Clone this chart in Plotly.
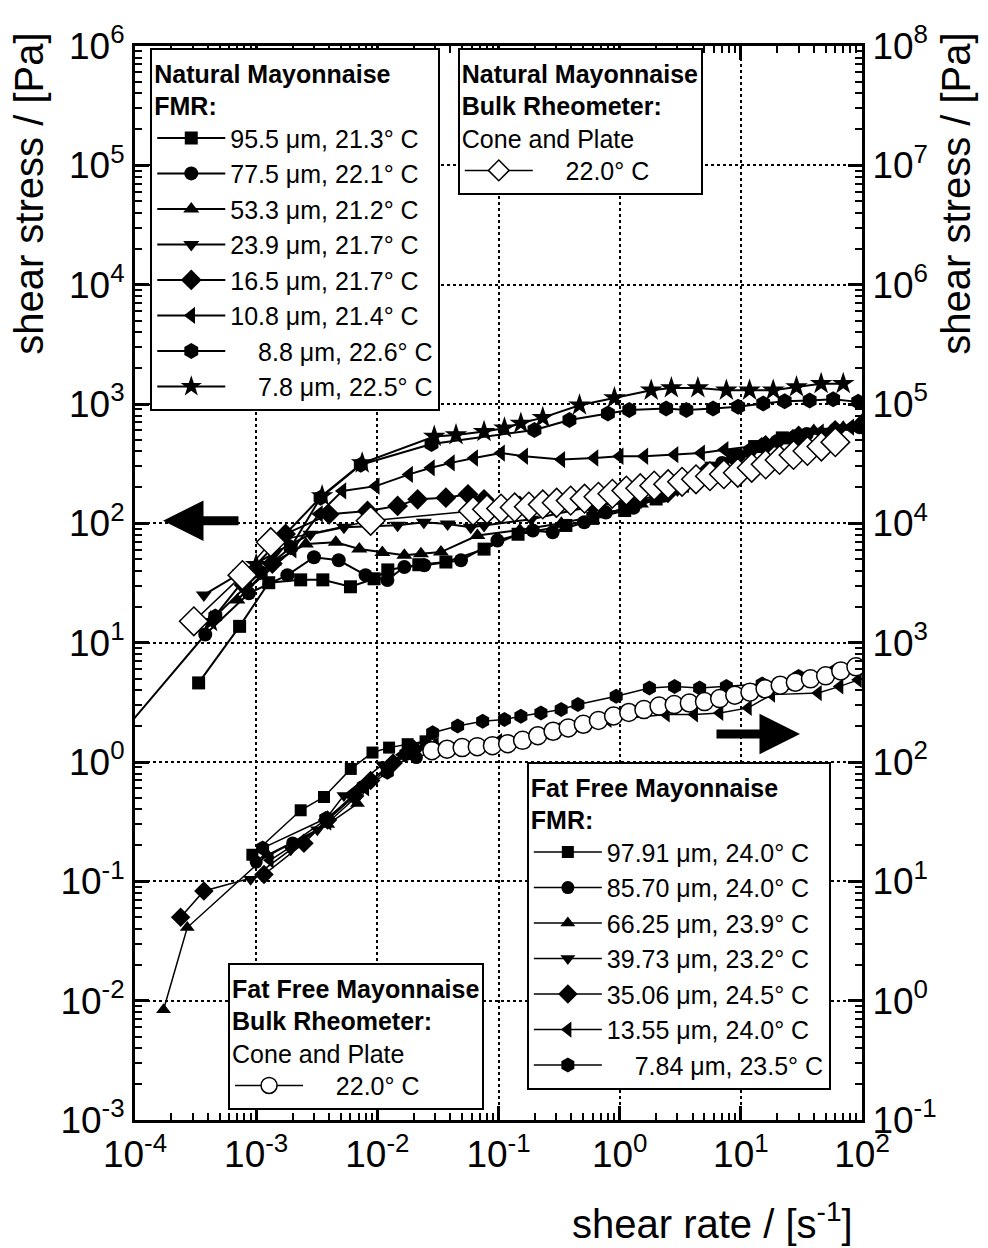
import plotly.graph_objects as go

FONT = "Arial, Liberation Sans, sans-serif"

# ---------------- Natural mayonnaise, FMR (left axis, Pa) ----------------
nat_labels = ["95.5 μm, 21.3° C", "77.5 μm, 22.1° C", "53.3 μm, 21.2° C", "23.9 μm, 21.7° C",
              "16.5 μm, 21.7° C", "10.8 μm, 21.4° C", "\u2007\u20078.8 μm, 22.6° C", "\u2007\u20077.8 μm, 22.5° C"]
nat_symbols = ["square", "circle", "triangle-up", "triangle-down", "diamond", "triangle-left", "hexagon", "star"]
nat_sizes = [13, 14, 14, 14, 16, 15, 16, 17]

nat_x_955 = [3.35e-4, 7.3e-4, 1.27e-3, 2.33e-3, 3.55e-3, 6.0e-3, 9.4e-3, 1.22e-2, 2.2e-2, 3.68e-2, 7.6e-2, 0.145, 0.36, 0.6, 1.1, 2.0, 3.3, 5.7, 8.8, 13.0, 22.0, 30.0]
nat_y_955 = [4.6, 13.7, 31.8, 33.6, 33.6, 29.4, 34.3, 40.7, 45.0, 47.4, 60.8, 81.0, 96.0, 110.0, 128.0, 160.0, 205.0, 290.0, 370.0, 440.0, 520.0, 540.0]

nat_x_775 = [5.0e-5, 3.8e-4, 8.7e-4, 1.81e-3, 3.0e-3, 4.8e-3, 8.0e-3, 1.21e-2, 1.67e-2, 2.44e-2, 4.9e-2, 9.8e-2, 0.192, 0.28, 0.51, 0.77, 1.3, 2.3, 4.0, 7.0, 12.0, 20.0, 35.0, 60.0, 95.0]
nat_y_775 = [1.03, 11.7, 25.9, 36.8, 52.0, 49.0, 36.8, 33.5, 43.0, 44.6, 49.0, 71.8, 87.0, 84.0, 102.0, 123.0, 135.0, 170.0, 230.0, 320.0, 410.0, 490.0, 560.0, 610.0, 640.0]

nat_x_533 = [7.0e-4, 1.4e-3, 2.57e-3, 4.54e-3, 7.1e-3, 1.10e-2, 1.67e-2, 2.29e-2, 3.35e-2, 6.7e-2, 0.15, 0.33, 0.7, 1.5, 3.0, 5.5, 10.0, 18.0, 27.0, 40.0, 70.0, 100.0]
nat_y_533 = [22.8, 47.4, 67.0, 69.5, 61.0, 57.0, 54.0, 55.6, 57.4, 79.0, 88.0, 100.0, 118.0, 145.0, 200.0, 280.0, 380.0, 470.0, 518.0, 600.0, 640.0, 700.0]

nat_x_239 = [3.7e-4, 7.4e-4, 1.45e-3, 2.8e-3, 5.3e-3, 1.47e-2, 2.42e-2, 3.8e-2, 5.9e-2, 7.6e-2, 0.186, 0.7, 1.5, 3.0, 6.0, 12.0, 25.0, 50.0, 100.0]
nat_y_239 = [25.1, 38.5, 57.5, 81.0, 92.7, 96.3, 101.9, 98.7, 92.6, 96.0, 108.0, 144.0, 150.0, 190.0, 280.0, 400.0, 520.0, 590.0, 640.0]

nat_x_165 = [7.94e-4, 1.36e-3, 1.75e-3, 4.0e-3, 8.3e-3, 1.47e-2, 2.15e-2, 3.68e-2, 5.6e-2, 7.6e-2, 0.15, 0.3, 0.6, 1.2, 2.5, 5.0, 9.0, 16.0, 30.0, 60.0, 100.0]
nat_y_165 = [30.4, 46.0, 81.5, 119.0, 127.0, 140.0, 159.0, 164.0, 175.0, 159.0, 140.0, 135.0, 140.0, 150.0, 180.0, 260.0, 350.0, 450.0, 540.0, 600.0, 680.0]

nat_x_108 = [8.5e-4, 2.0e-3, 3.3e-3, 5.15e-3, 9.7e-3, 1.83e-2, 2.77e-2, 4.05e-2, 6.3e-2, 0.105, 0.163, 0.33, 0.62, 1.0, 1.6, 2.84, 4.7, 7.35, 14.0, 25.0, 45.0, 80.0]
nat_y_108 = [28.0, 60.0, 120.0, 187.0, 205.0, 257.0, 292.0, 321.0, 353.0, 388.0, 365.0, 342.0, 353.0, 365.0, 365.0, 376.0, 388.0, 414.0, 450.0, 520.0, 580.0, 640.0]

nat_x_88 = [4.6e-4, 1.09e-3, 1.93e-3, 3.4e-3, 7.3e-3, 2.8e-2, 0.198, 0.385, 0.80, 1.2, 2.42, 3.55, 5.9, 9.5, 15.3, 23.0, 37.0, 57.8, 93.0]
nat_y_88 = [16.6, 39.0, 63.0, 164.0, 310.0, 462.0, 606.0, 735.0, 834.0, 889.0, 918.0, 889.0, 918.0, 948.0, 1010.0, 1055.0, 1072.0, 1096.0, 1042.0]

nat_x_78 = [4.2e-4, 1.0e-3, 3.5e-3, 7.5e-3, 2.95e-2, 4.46e-2, 7.6e-2, 0.112, 0.153, 0.232, 0.466, 0.905, 1.82, 2.67, 4.42, 7.6, 11.8, 18.5, 28.8, 46.0, 70.0]
nat_y_78 = [15.0, 45.0, 170.0, 320.0, 534.0, 551.0, 587.0, 627.0, 689.0, 769.0, 977.0, 1124.0, 1303.0, 1362.0, 1362.0, 1303.0, 1303.0, 1303.0, 1390.0, 1480.0, 1480.0]

nat_xs = [nat_x_955, nat_x_775, nat_x_533, nat_x_239, nat_x_165, nat_x_108, nat_x_88, nat_x_78]
nat_ys = [nat_y_955, nat_y_775, nat_y_533, nat_y_239, nat_y_165, nat_y_108, nat_y_88, nat_y_78]

# ---------------- Natural mayonnaise, bulk rheometer (left axis, Pa) ----------------
nat_bulk_x = [3.06e-4, 7.7e-4, 1.32e-3, 8.8e-3, 0.0617, 0.0804, 0.105, 0.136, 0.178, 0.232, 0.302, 0.394, 0.513,
              0.668, 0.871, 1.135, 1.479, 1.928, 2.512, 3.273, 4.266, 5.559, 7.244, 9.441, 12.30, 16.03,
              20.89, 27.23, 35.48, 46.24, 60.26]
nat_bulk_y = [15.1, 36.8, 69.5, 105.0, 127.0, 131.0, 133.0, 136.0, 138.0, 144.0, 149.0, 155.0, 161.0,
              167.0, 177.0, 188.0, 197.0, 207.0, 213.0, 223.0, 234.0, 248.0, 258.0, 265.0, 292.0, 312.0,
              340.0, 374.0, 404.0, 440.0, 479.0]

# ---------------- Fat free mayonnaise, FMR (right axis, Pa) ----------------
ff_labels = ["97.91 μm, 24.0° C", "85.70 μm, 24.0° C", "66.25 μm, 23.9° C", "39.73 μm, 23.2° C",
             "35.06 μm, 24.5° C", "13.55 μm, 24.0° C", "\u2007\u20077.84 μm, 23.5° C"]
ff_symbols = ["square", "circle", "triangle-up", "triangle-down", "diamond", "triangle-left", "hexagon"]
ff_sizes = [12, 13, 13, 13, 15, 14, 15]

ff_x_9791 = [9.3e-4, 2.33e-3, 3.63e-3, 6.04e-3, 9.12e-3, 1.25e-2, 1.78e-2, 2.5e-2]
ff_y_9791 = [16.7, 39.4, 50.9, 87.5, 120.0, 132.0, 141.0, 149.0]

ff_x_8570 = [1.0e-3, 2.0e-3, 3.8e-3, 7.5e-3, 1.3e-2, 2.1e-2, 3.0e-2]
ff_y_8570 = [14.5, 21.0, 33.0, 62.0, 95.0, 109.0, 122.0]

ff_x_6625 = [1.72e-4, 2.7e-4, 1.24e-3, 3.9e-3, 6.86e-3, 8.8e-3, 1.89e-2, 3.0e-2]
ff_y_6625 = [0.84, 4.1, 16.7, 30.0, 44.8, 70.0, 128.0, 140.0]

ff_x_3973 = [9.0e-4, 1.93e-3, 3.2e-3, 5.3e-3, 1.1e-2, 2.0e-2]
ff_y_3973 = [10.4, 18.4, 27.0, 52.5, 95.0, 125.0]

ff_x_3506 = [2.38e-4, 3.7e-4, 1.16e-3, 2.48e-3, 3.88e-3, 6.5e-3, 8.8e-3, 1.35e-2, 2.0e-2]
ff_y_3506 = [5.0, 8.3, 11.4, 20.9, 32.6, 52.0, 70.0, 98.0, 128.0]

ff_x_1355 = [1.3e-3, 3.9e-3, 8.0e-3, 1.6e-2, 3.0e-2, 0.1, 0.3, 0.8, 2.42, 4.14, 6.7, 11.5, 17.9, 43.5, 65.6, 93.0]
ff_y_1355 = [15.0, 31.0, 60.0, 115.0, 140.0, 150.0, 185.0, 225.0, 250.0, 250.0, 258.0, 284.0, 367.0, 378.0, 430.0, 488.0]

ff_x_784 = [1.13e-3, 3.75e-3, 1.21e-2, 1.72e-2, 2.86e-2, 4.6e-2, 7.4e-2, 0.112, 0.153, 0.224, 0.329, 0.452, 0.936, 1.76, 2.84, 4.57, 7.6, 15.0, 30.0, 60.0, 95.0]
ff_y_784 = [19.0, 33.6, 82.0, 117.0, 176.0, 200.0, 220.0, 227.0, 242.0, 258.0, 275.0, 303.0, 355.0, 417.0, 430.0, 417.0, 430.0, 450.0, 520.0, 580.0, 620.0]

ff_xs = [ff_x_9791, ff_x_8570, ff_x_6625, ff_x_3973, ff_x_3506, ff_x_1355, ff_x_784]
ff_ys = [ff_y_9791, ff_y_8570, ff_y_6625, ff_y_3973, ff_y_3506, ff_y_1355, ff_y_784]

# ---------------- Fat free mayonnaise, bulk rheometer (right axis, Pa) ----------------
ff_bulk_x = [0.0282, 0.0376, 0.0501, 0.0668, 0.0891, 0.119, 0.158, 0.211, 0.282, 0.376, 0.501, 0.668,
             0.891, 1.189, 1.585, 2.113, 2.818, 3.758, 5.012, 6.683, 8.913, 11.89, 15.85, 21.13, 28.18,
             37.58, 50.12, 66.83, 89.13]
ff_bulk_y = [124.5, 128.0, 132.0, 134.5, 137.0, 142.5, 152.0, 166.0, 181.0, 193.0, 207.0, 223.0,
             243.0, 260.0, 275.0, 294.0, 303.0, 312.0, 321.0, 340.0, 363.0, 385.0, 411.0, 440.0, 466.0,
             498.0, 527.0, 580.0, 627.0]

fig = go.Figure()

for xs, ys, lab, sym, sz in zip(nat_xs, nat_ys, nat_labels, nat_symbols, nat_sizes):
    fig.add_trace(go.Scatter(x=xs, y=ys, name=lab, mode="lines+markers",
                             line=dict(color="black", width=2),
                             marker=dict(symbol=sym, size=sz, color="black"),
                             legend="legend", xaxis="x", yaxis="y"))

fig.add_trace(go.Scatter(x=nat_bulk_x, y=nat_bulk_y, name="\u2007\u200722.0° C", mode="lines+markers",
                         line=dict(color="black", width=1.5),
                         marker=dict(symbol="diamond", size=22, color="white",
                                     line=dict(color="black", width=1.5)),
                         legend="legend2", xaxis="x", yaxis="y"))

for xs, ys, lab, sym, sz in zip(ff_xs, ff_ys, ff_labels, ff_symbols, ff_sizes):
    fig.add_trace(go.Scatter(x=xs, y=ys, name=lab, mode="lines+markers",
                             line=dict(color="black", width=1.5),
                             marker=dict(symbol=sym, size=sz, color="black"),
                             legend="legend3", xaxis="x", yaxis="y2"))

fig.add_trace(go.Scatter(x=ff_bulk_x, y=ff_bulk_y, name="\u2007\u200722.0° C", mode="lines+markers",
                         line=dict(color="black", width=1.5),
                         marker=dict(symbol="circle", size=18, color="white",
                                     line=dict(color="black", width=1.5)),
                         legend="legend4", xaxis="x", yaxis="y2"))

def dec_ticks(lo, hi):
    vals = [10.0 ** k for k in range(lo, hi + 1)]
    text = ["10<sup>%d</sup>" % k for k in range(lo, hi + 1)]
    minor = [m * 10.0 ** k for k in range(lo, hi) for m in range(2, 10)]
    return vals, text, minor

xv, xt, xm = dec_ticks(-4, 2)
yv, yt, ym = dec_ticks(-3, 6)
y2v, y2t, y2m = dec_ticks(-1, 8)

TICK_FS = 37
axis_common = dict(type="log", showline=True, linewidth=3, linecolor="black",
                   ticks="inside", ticklen=14, tickwidth=2.5, tickcolor="black",
                   tickfont=dict(family=FONT, size=TICK_FS, color="black"),
                   tickmode="array", zeroline=False)

# page body has an 8 px margin, so the figure is slightly smaller than the window
fig.update_layout(
    width=980, height=1240,
    margin=dict(l=127, r=126, t=30, b=128),
    paper_bgcolor="white", plot_bgcolor="white",
    font=dict(family=FONT, color="black"),
    xaxis=dict(range=[-4, 2], tickvals=xv, ticktext=xt, mirror="ticks",
               showgrid=True, gridcolor="black", gridwidth=1.5, griddash="dot",
               minor=dict(tickmode="array", tickvals=xm, ticks="inside", ticklen=7, tickwidth=2,
                          tickcolor="black", showgrid=False),
               **axis_common),
    yaxis=dict(range=[-3, 6], tickvals=yv, ticktext=yt,
               showgrid=True, gridcolor="black", gridwidth=1.5, griddash="dot",
               minor=dict(tickmode="array", tickvals=ym, ticks="inside", ticklen=7, tickwidth=2,
                          tickcolor="black", showgrid=False),
               **axis_common),
    yaxis2=dict(range=[-1, 8], tickvals=y2v, ticktext=y2t, overlaying="y", side="right",
                showgrid=False,
                minor=dict(tickmode="array", tickvals=y2m, ticks="inside", ticklen=7, tickwidth=2,
                           tickcolor="black", showgrid=False),
                **axis_common),
    showlegend=True,
)

legend_common = dict(bgcolor="white", bordercolor="black", borderwidth=2,
                     font=dict(family=FONT, size=25, color="black"),
                     xanchor="left", yanchor="top", tracegroupgap=0, itemclick=False,
                     itemwidth=68)
LT = dict(family=FONT, size=25)

fig.update_layout(
    legend=dict(x=0.021, y=0.998,
                title=dict(text="<b>Natural Mayonnaise<br>FMR:</b>", font=LT),
                **legend_common),
    legend2=dict(x=0.444, y=0.998,
                 title=dict(text="<b>Natural Mayonnaise<br>Bulk Rheometer:</b><br>Cone and Plate", font=LT),
                 **legend_common),
    legend3=dict(x=0.539, y=0.333,
                 title=dict(text="<b>Fat Free Mayonnaise<br>FMR:</b>", font=LT),
                 **legend_common),
    legend4=dict(x=0.128, y=0.146,
                 title=dict(text="<b>Fat Free Mayonnaise<br>Bulk Rheometer:</b><br>Cone and Plate", font=LT),
                 **legend_common),
)

title_font = dict(family=FONT, size=40, color="black")
fig.add_annotation(text="shear stress / [Pa]", textangle=-90, xref="paper", yref="paper",
                   x=-0.145, y=0.862, showarrow=False, font=title_font, xanchor="center", yanchor="middle")
fig.add_annotation(text="shear stress / [Pa]", textangle=-90, xref="paper", yref="paper",
                   x=1.13, y=0.862, showarrow=False, font=title_font, xanchor="center", yanchor="middle")
fig.add_annotation(text="shear rate / [s<sup>-1</sup>]", xref="paper", yref="paper",
                   x=0.795, y=-0.094, showarrow=False, font=title_font, xanchor="center", yanchor="middle")

# direction arrows
fig.add_annotation(text="", xref="paper", yref="paper", x=0.0385, y=0.558, ax=77, ay=0,
                   showarrow=True, arrowhead=2, arrowsize=0.9, arrowwidth=9, arrowcolor="black")
fig.add_annotation(text="", xref="paper", yref="paper", x=0.9147, y=0.3595, ax=-85, ay=0,
                   showarrow=True, arrowhead=2, arrowsize=0.9, arrowwidth=9, arrowcolor="black")

fig.write_html("out.html")
